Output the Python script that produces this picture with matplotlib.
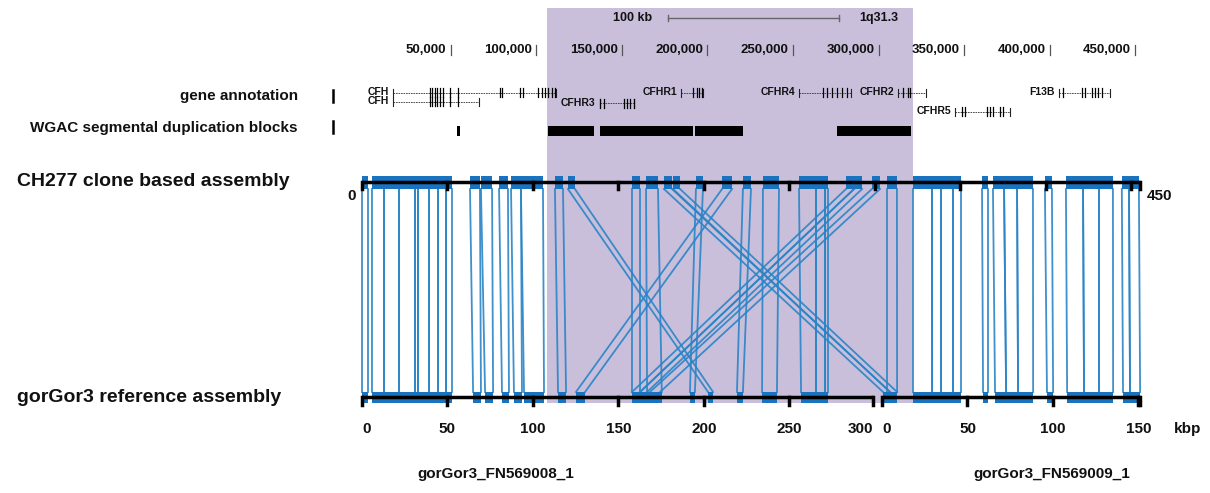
import numpy as np
import matplotlib
matplotlib.use("Agg")
import matplotlib.pyplot as plt
from matplotlib.patches import Rectangle

plt.rcParams['font.family'] = ['Liberation Sans', 'DejaVu Sans']
plt.rcParams['font.weight'] = 'bold'

# ---- data -------------------------------------------------------------
# browser track (kb, UCSC coordinates)
coord_ticks = [50, 100, 150, 200, 250, 300, 350, 400, 450]
coord_labels = ["50,000", "100,000", "150,000", "200,000", "250,000",
                "300,000", "350,000", "400,000", "450,000"]
highlight = (106.3, 320.2)
scalebar = (176.8, 276.8)

gene_names = ["CFH", "CFH", "CFHR3", "CFHR1", "CFHR4", "CFHR2", "CFHR5", "F13B"]
gene_start = [16.2, 16.2, 137.2, 184.6, 253.6, 311.5, 344.7, 405.7]
gene_end = [111.5, 66.5, 157.1, 197.4, 283.9, 327.8, 376.9, 435.3]
gene_row = [0, 1, 1, 0, 0, 0, 2, 0]
gene_exons = [
    [37.9, 39.0, 40.8, 41.9, 43.7, 45.5, 49.6, 54.2, 78.8, 80.0, 90.5, 92.2,
     101.0, 103.4, 105.1, 106.8, 109.2, 110.9],
    [37.9, 39.0, 40.8, 41.9, 43.7, 45.5, 49.6, 54.2],
    [137.4, 139.3, 151.1, 153.1, 155.0, 156.9],
    [191.8, 193.7, 195.3, 196.7],
    [267.7, 269.7, 272.6, 275.5, 278.4, 281.7],
    [314.5, 317.4, 318.4],
    [348.6, 350.5, 363.2, 365.2, 367.1, 371.0, 372.9],
    [408.0, 418.8, 420.7, 424.6, 426.6, 428.5, 430.5],
]

sd_start = [53.9, 107.1, 137.2, 192.6, 275.6]
sd_end = [55.9, 134.0, 192.2, 221.4, 319.4]

# assemblies (kbp)
ch277_len = 455
contig_names = ["gorGor3_FN569008_1", "gorGor3_FN569009_1"]
contig_len = [299, 151]

# alignments: CH277 start, end, gorilla start, end, gorilla contig index
aln_t0 = [0, 5.9, 12.9, 21.6, 31.0, 32.8, 39.2, 44.5, 49.2,
          63.2, 69.6, 80.2, 87.2, 93.0,
          112.9, 120.5, 158.0, 166.2, 176.7, 182.0, 195.4, 210.7, 222.9,
          234.6, 255.7, 265.6, 270.9, 283.2, 287.9, 298.4, 307.2,
          322.4, 333.5, 338.8, 345.8, 362.8, 369.2, 375.7, 383.3, 399.6,
          411.9, 421.9, 431.3, 444.6, 448.8]
aln_t1 = [3.5, 12.9, 21.6, 31.0, 32.8, 39.2, 44.5, 49.2, 52.7,
          69.0, 76.1, 85.4, 93.0, 105.9,
          117.6, 124.6, 162.7, 173.2, 181.4, 186.1, 199.5, 216.5, 227.6,
          244.0, 265.6, 270.9, 272.7, 287.9, 292.6, 303.1, 313.0,
          333.5, 338.8, 345.8, 350.5, 366.3, 375.7, 383.3, 392.6, 403.7,
          421.9, 431.3, 439.4, 448.8, 454.6]
aln_b0 = [0, 5.9, 12.9, 21.6, 31.0, 32.8, 39.2, 44.5, 49.2,
          65.0, 72.0, 81.9, 88.9, 94.8,
          114.7, 202.5, 158.0, 166.8, 0.6, 4.7, 191.9, 125.2, 219.4,
          234.1, 256.9, 265.6, 270.9, 158.0, 162.7, 168.5, 2.9,
          18.1, 29.3, 34.5, 41.5, 59.1, 66.1, 72.6, 79.6, 96.5,
          108.3, 118.2, 127.0, 141.0, 145.1]
aln_b1 = [3.5, 12.9, 21.6, 31.0, 32.8, 39.2, 44.5, 49.2, 52.7,
          69.6, 76.7, 86.0, 93.6, 106.5,
          119.4, 205.4, 162.7, 175.4, 4.7, 8.8, 194.8, 130.5, 222.9,
          242.8, 265.6, 270.9, 272.7, 162.7, 166.8, 174.4, 8.8,
          29.3, 34.5, 41.5, 46.2, 62.0, 72.6, 79.6, 88.4, 100.1,
          118.2, 127.0, 135.2, 145.1, 151.0]
aln_contig = [0] * 30 + [1] * 15
for i in [18, 19]:
    aln_contig[i] = 1

bottom_ticks = [[0, 50, 100, 150, 200, 250, 300], [0, 50, 100, 150]]

# ---- layout -----------------------------------------------------------
PX = 1.709                     # pixels per kbp
X0 = 362                       # pixel of CH277 position 0
contig_offset = [0, 304.3]     # contig start on CH277 scale
name_x = [78.4, 403.7]         # contig name centres on CH277 scale
BR_SCALE, BR_OFF = 1.711 / 1.709, 1.9


def br(v):
    return np.asarray(v) * BR_SCALE + BR_OFF


fig = plt.figure(figsize=(12.1, 4.93), dpi=100)
ax = fig.add_axes([0, 0, 1, 1])
ax.set_xlim(-X0 / PX, (1210 - X0) / PX)
ax.set_ylim(493, 0)
ax.axis('off')

blue = '#1a73bf'
line_blue = '#2a84c6'
txt = '#111111'

# highlight
h0, h1 = br(highlight)
ax.add_patch(Rectangle((h0, 8), h1 - h0, 395, color='#c9bfdb', lw=0, zorder=0))

# scale bar
s0, s1 = br(scalebar)
ax.plot([s0, s1], [18, 18], color='#666666', lw=1)
ax.plot([s0, s0], [15, 21], color='#666666', lw=1)
ax.plot([s1, s1], [15, 21], color='#666666', lw=1)
ax.text(s0 - 9, 18, "100 kb", ha='right', va='center', fontsize=9, color=txt)
ax.text(s1 + 12, 18, "1q31.3", ha='left', va='center', fontsize=9, color=txt)

# coordinate ruler
for pos, lab in zip(br(coord_ticks), coord_labels):
    ax.plot([pos, pos], [45, 55], color='#555555', lw=0.9)
    ax.text(pos - 2.5, 50, lab, ha='right', va='center', fontsize=9.5, color=txt)

# track labels
lx = (298 - X0) / PX
bx = (333 - X0) / PX
ax.text(lx, 96, "gene annotation", ha='right', va='center', fontsize=11, color=txt)
ax.text(lx, 128, "WGAC segmental duplication blocks", ha='right', va='center',
        fontsize=11, color=txt)
ax.plot([bx, bx], [90, 102], color='black', lw=1.8)
ax.plot([bx, bx], [121, 133], color='black', lw=1.8)

# genes
row_y = [92.5, 101.5, 111.5]
for name, g0, g1, r, ex in zip(gene_names, gene_start, gene_end, gene_row, gene_exons):
    y = row_y[r]
    if name == "CFHR3":
        y = 103
    a, b = br([g0, g1])
    ax.plot([a, b], [y, y], color='#333333', lw=0.6, ls=(0, (2, 1)))
    ax.plot([a, a], [y - 4, y + 4], color='#222222', lw=0.8)
    ax.plot([b, b], [y - 4, y + 4], color='#222222', lw=0.8)
    for e in br(ex):
        ax.plot([e, e], [y - 4.5, y + 4.5], color='black', lw=0.9)
    ax.text(a - 2.5, y - 0.5, name, ha='right', va='center', fontsize=7.5, color=txt)

# segmental duplications
for a, b in zip(br(sd_start), br(sd_end)):
    ax.add_patch(Rectangle((a, 125.5), b - a - 0.4, 10, color='black', lw=0))

# alignments
YT0, YT1 = 176, 189       # CH277 block rows
YB0, YB1 = 392, 403       # gorilla block rows
for t0, t1, b0, b1, c in zip(aln_t0, aln_t1, aln_b0, aln_b1, aln_contig):
    b0 = b0 + contig_offset[c]
    b1 = b1 + contig_offset[c]
    ax.plot([t0, b0], [YT1, YB0], color=line_blue, lw=1.3, alpha=0.9, zorder=2)
    ax.plot([t1, b1], [YT1, YB0], color=line_blue, lw=1.3, alpha=0.9, zorder=2)
    ax.add_patch(Rectangle((t0, YT0), t1 - t0, YT1 - YT0, color=blue, lw=0, zorder=3))
    ax.add_patch(Rectangle((b0, YB0), b1 - b0, YB1 - YB0, color=blue, lw=0, zorder=3))

# CH277 axis
ax.plot([0, ch277_len], [182, 182], color='black', lw=2.5, zorder=4,
        solid_capstyle='butt')
for t in list(range(0, 451, 50)) + [ch277_len]:
    ax.plot([t, t], [182, 189], color='black', lw=2.5, zorder=4)
ax.text(-3.5, 196, "0", ha='right', va='center', fontsize=11, color=txt)
ax.text(ch277_len + 4, 196, "450", ha='left', va='center', fontsize=11, color=txt)

# gorilla axes
for c in range(2):
    off = contig_offset[c]
    L = contig_len[c]
    ax.plot([off, off + L], [397, 397], color='black', lw=2.5, zorder=4,
            solid_capstyle='butt')
    for t in bottom_ticks[c] + [L]:
        if t > L:
            continue
        ax.plot([off + t, off + t], [397, 405], color='black', lw=2.5, zorder=4)
    for t in bottom_ticks[c]:
        ha = 'center'
        x = off + t
        if t == 0:
            ha = 'left'
        if c == 0 and t == 300:
            ha = 'right'
            x = off + L
        ax.text(x, 429, str(t), ha=ha, va='center', fontsize=11, color=txt)
    ax.text(name_x[c], 474, contig_names[c],
            ha='center', va='center', fontsize=11, color=txt)
ax.text(contig_offset[1] + contig_len[1] + 28, 429, "kbp", ha='center',
        va='center', fontsize=11, color=txt)

# assembly labels
tx = (17 - X0) / PX
ax.text(tx, 181, "CH277 clone based assembly", ha='left', va='center',
        fontsize=14, color=txt)
ax.text(tx, 397, "gorGor3 reference assembly", ha='left', va='center',
        fontsize=14, color=txt)

fig.savefig("out.png", dpi=100)
